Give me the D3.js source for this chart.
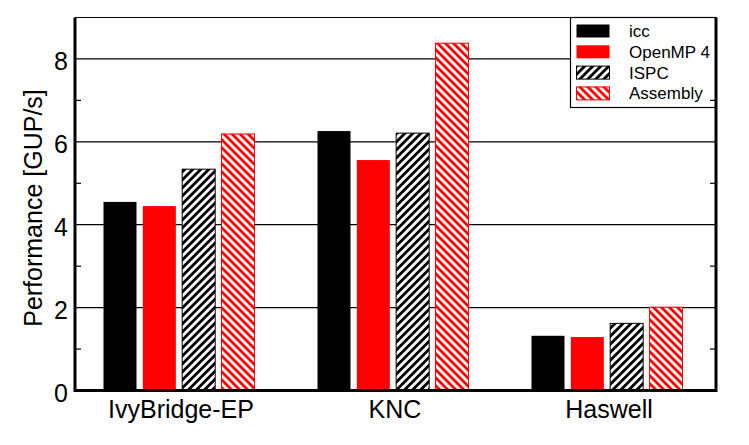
<!DOCTYPE html>
<html>
<head>
<meta charset="utf-8">
<script src="https://cdn.jsdelivr.net/npm/d3@7"></script>
<style>
  body { margin: 0; background: #fff; }
  text { font-family: "Liberation Sans", Arial, sans-serif; fill: #000; }
</style>
</head>
<body>
<div id="chart"></div>
<script>
var machines = ["IvyBridge-EP", "KNC", "Haswell"];
var series = ["icc", "OpenMP 4", "ISPC", "Assembly"];
var icc = [4.55, 6.26, 1.32];
var openmp = [4.45, 5.56, 1.29];
var ispc = [5.34, 6.21, 1.62];
var assembly = [6.19, 8.38, 2.01];
var yTicks = [0, 2, 4, 6, 8];
var yMinor = [1, 3, 5, 7];

var values = [icc, openmp, ispc, assembly];

var W = 749, H = 445;
var plotL = 75, plotR = 716, plotT = 17.5, plotB = 390.5;

var svg = d3.select("#chart").append("svg")
    .attr("width", W)
    .attr("height", H);

var defs = svg.append("defs");
function hatch(id, color, angle) {
  var p = defs.append("pattern")
      .attr("id", id)
      .attr("patternUnits", "userSpaceOnUse")
      .attr("width", 5.66)
      .attr("height", 10)
      .attr("patternTransform", "rotate(" + angle + ")");
  p.append("rect").attr("width", 5.66).attr("height", 10).attr("fill", "#fff");
  p.append("rect").attr("width", 2.83).attr("height", 10).attr("fill", color);
}
hatch("hatch-black", "#000", 45);
hatch("hatch-red", "#f00", -45);

var fills = ["#000", "#f00", "url(#hatch-black)", "url(#hatch-red)"];
var strokes = ["none", "none", "#000", "#f00"];

var y = d3.scaleLinear().domain([0, 9]).range([plotB, plotT]);
var x = d3.scaleBand().domain(machines).range([72, 714]);
var xs = d3.scaleLinear().domain([0, series.length - 1]).range([-59, 59]);
var barW = 33;

// grid lines
svg.append("g").selectAll("line")
    .data(yTicks.filter(function(d) { return d > 0; }))
  .enter().append("line")
    .attr("x1", plotL).attr("x2", plotR)
    .attr("y1", function(d) { return y(d); })
    .attr("y2", function(d) { return y(d); })
    .attr("stroke", "#000")
    .attr("stroke-width", 1.3);

// bars
var rows = [];
series.forEach(function(s, j) {
  machines.forEach(function(m, i) {
    rows.push({ s: j, m: m, v: values[j][i] });
  });
});

svg.append("g").selectAll("rect")
    .data(rows)
  .enter().append("rect")
    .attr("x", function(d) { return x(d.m) + x.bandwidth() / 2 + xs(d.s) - barW / 2; })
    .attr("width", barW)
    .attr("y", function(d) { return y(d.v); })
    .attr("height", function(d) { return y(0) - y(d.v); })
    .attr("fill", function(d) { return fills[d.s]; })
    .attr("stroke", function(d) { return strokes[d.s]; })
    .attr("stroke-width", 1);

// legend
var lg = svg.append("g");
lg.append("rect")
    .attr("x", 570.5).attr("y", plotT)
    .attr("width", plotR - 570.5).attr("height", 90)
    .attr("fill", "#fff")
    .attr("stroke", "#000")
    .attr("stroke-width", 1.2);

var item = lg.selectAll(".item")
    .data(series)
  .enter().append("g")
    .attr("class", "item")
    .attr("transform", function(d, i) { return "translate(0," + (31 + i * 20.8) + ")"; });

item.append("rect")
    .attr("x", 576.5).attr("y", -6.5)
    .attr("width", 33).attr("height", 13)
    .attr("fill", function(d, i) { return fills[i]; })
    .attr("stroke", function(d, i) { return strokes[i]; })
    .attr("stroke-width", 1);

item.append("text")
    .attr("x", 629)
    .attr("y", 6)
    .style("font-size", "17px")
    .text(function(d) { return d; });

// axes frame
svg.append("line")
    .attr("x1", plotL).attr("x2", plotR)
    .attr("y1", plotT).attr("y2", plotT)
    .attr("stroke", "#000").attr("stroke-width", 1.2);
svg.append("path")
    .attr("d", "M" + plotL + "," + plotT + "V" + plotB + "H" + plotR + "V" + plotT)
    .attr("fill", "none")
    .attr("stroke", "#000")
    .attr("stroke-width", 3);

// minor ticks
var mt = svg.append("g");
mt.selectAll(".ml")
    .data(yMinor)
  .enter().append("line")
    .attr("x1", plotL).attr("x2", plotL + 6)
    .attr("y1", function(d) { return y(d); })
    .attr("y2", function(d) { return y(d); })
    .attr("stroke", "#000").attr("stroke-width", 1.2);
mt.selectAll(".mr")
    .data(yMinor)
  .enter().append("line")
    .attr("x1", plotR).attr("x2", plotR - 6)
    .attr("y1", function(d) { return y(d); })
    .attr("y2", function(d) { return y(d); })
    .attr("stroke", "#000").attr("stroke-width", 1.2);

// tick labels
svg.append("g").selectAll("text")
    .data(yTicks)
  .enter().append("text")
    .attr("x", 68)
    .attr("y", function(d) { return y(d) + 11; })
    .attr("text-anchor", "end")
    .style("font-size", "25px")
    .text(function(d) { return d; });

svg.append("g").selectAll("text")
    .data(machines)
  .enter().append("text")
    .attr("x", function(d) { return x(d) + x.bandwidth() / 2 + 2; })
    .attr("y", 418)
    .attr("text-anchor", "middle")
    .style("font-size", "25px")
    .text(function(d) { return d; });

svg.append("text")
    .attr("transform", "translate(33," + 208 + ") rotate(-90)")
    .attr("text-anchor", "middle")
    .attr("dominant-baseline", "central")
    .style("font-size", "25px")
    .text("Performance [GUP/s]");
</script>
</body>
</html>
